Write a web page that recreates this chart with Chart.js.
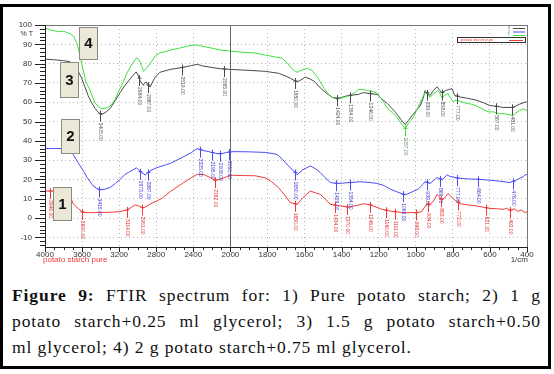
<!DOCTYPE html>
<html>
<head>
<meta charset="utf-8">
<script src="https://cdn.jsdelivr.net/npm/chart.js"></script>
<style>
  body { margin: 0; background: #fff; }
  #frame { position: absolute; left: 0; top: 4px; width: 551px; height: 365px; border: 3px solid #000; box-sizing: border-box; }
  #wrap { position: absolute; left: 0; top: 0; width: 554px; height: 272px; }
  #caption { position: absolute; left: 12px; top: 282px; width: 529px; font-family: 'Liberation Serif', 'DejaVu Serif', serif; font-size: 17.5px; line-height: 26px; color: #111; }
  #caption div { white-space: nowrap; letter-spacing: 0.9px; }
  #caption .j { text-align: justify; text-align-last: justify; white-space: normal; }
</style>
</head>
<body>
<div id="frame"></div>
<div id="wrap"><canvas id="ftirChart"></canvas></div>
<div id="caption">
  <div class="j"><b>Figure 9:</b> FTIR spectrum for: 1) Pure potato starch; 2) 1 g</div>
  <div class="j">potato starch+0.25 ml glycerol; 3) 1.5 g potato starch+0.50</div>
  <div>ml glycerol; 4) 2 g potato starch+0.75 ml glycerol.</div>
</div>
<script>
// wavenumbers (1/cm) and %T

// 4 - green
const wave4 = [4000, 3950, 3900, 3850, 3800, 3760, 3730, 3690, 3660, 3640, 3600, 3560, 3513, 3460, 3420, 3387, 3340, 3297, 3250, 3211, 3160, 3117, 3060, 3009, 2985, 2960, 2937, 2905, 2865, 2811, 2760, 2649, 2550, 2470, 2400, 2360, 2280, 2200, 2100, 2000, 1950, 1870, 1811, 1760, 1722, 1690, 1670, 1650, 1640, 1620, 1585, 1560, 1530, 1500, 1470, 1450, 1424, 1390, 1354, 1330, 1310, 1280, 1262, 1230, 1208, 1180, 1154, 1125, 1100, 1075, 1057, 1040, 1014, 985, 960, 950, 935, 923, 910, 895, 880, 870, 858, 845, 826, 815, 800, 780, 761, 730, 700, 670, 640, 610, 580, 550, 520, 492, 476, 460, 440, 420, 400];
const trans4 = [98.4, 97.5, 97, 96.5, 96.8, 96, 95.5, 94, 91, 88, 79, 71, 66, 59.5, 57.5, 56.6, 57, 58, 61, 65, 70, 75, 80, 83, 82, 79, 76, 77.5, 80, 84, 85.5, 87, 88, 89, 89.6, 89.6, 88.8, 88, 87, 86.5, 86, 85.5, 84.4, 83.5, 82.8, 80, 77.5, 76, 75.5, 76.5, 77.6, 76.5, 73, 68, 64, 62.5, 61.5, 62.5, 63.5, 65, 66.6, 66.5, 66, 65.5, 64.7, 61, 57, 54.5, 52, 48.5, 46.4, 49, 52, 58, 63, 65, 64, 62.5, 64, 65, 66, 64.5, 62, 63.5, 64.5, 62.5, 60.5, 61, 60.5, 59.5, 59, 58, 56.5, 55, 55, 54, 54, 53.5, 53, 54.5, 55.7, 56.5, 55.7];

// 3 - black
const wave3 = [4000, 3900, 3800, 3730, 3700, 3657, 3604, 3570, 3535, 3500, 3460, 3420, 3387, 3340, 3297, 3240, 3190, 3140, 3100, 3050, 3016, 2995, 2973, 2940, 2925, 2908, 2890, 2865, 2840, 2811, 2760, 2649, 2519, 2420, 2357, 2300, 2200, 2100, 2000, 1900, 1811, 1741, 1700, 1677, 1640, 1620, 1596, 1570, 1550, 1510, 1480, 1450, 1418, 1390, 1364, 1310, 1283, 1250, 1208, 1180, 1154, 1111, 1080, 1057, 1040, 1020, 995, 977, 960, 950, 935, 923, 905, 885, 870, 858, 840, 826, 804, 790, 761, 720, 670, 630, 600, 560, 530, 476, 440, 410, 400];
const trans3 = [82.3, 82, 81.5, 81, 79.5, 77.6, 72.4, 68, 63.5, 60, 56.8, 54.5, 53.6, 55, 56.8, 61, 65, 68.5, 71, 74, 75.7, 74, 71, 68.8, 70, 70.5, 69, 67.9, 70.5, 73, 75.5, 77, 78, 79, 79.6, 78.8, 78, 77.3, 77, 76.5, 76, 75, 73.5, 72.4, 70.5, 71.5, 73, 72, 71, 67, 64.5, 62.5, 62, 62.8, 63.5, 64, 65, 64.5, 64, 61.5, 59.4, 55, 51, 48.4, 50.5, 53, 56, 58, 62, 66, 64.5, 63.5, 66, 68, 66, 65, 66, 66.5, 67, 63.5, 62.7, 62, 61, 59.5, 58.3, 57.8, 57.3, 57.3, 59, 60, 60.2];

// 2 - blue
const wave2 = [4000, 3900, 3805, 3750, 3697, 3660, 3621, 3580, 3546, 3481, 3440, 3405, 3350, 3297, 3240, 3189, 3140, 3100, 3050, 3016, 2990, 2973, 2919, 2890, 2865, 2800, 2700, 2649, 2519, 2420, 2357, 2300, 2240, 2160, 2108, 2080, 2040, 1984, 1900, 1811, 1760, 1741, 1704, 1677, 1650, 1640, 1610, 1569, 1540, 1515, 1490, 1461, 1418, 1354, 1300, 1245, 1208, 1170, 1138, 1100, 1057, 1020, 987, 960, 950, 923, 900, 885, 858, 831, 815, 804, 777, 720, 670, 600, 540, 492, 460, 420, 410, 400];
const trans2 = [36, 36, 36, 35.5, 33, 30, 27, 24, 21, 16.7, 15.3, 14.6, 15, 15.8, 18, 20, 22.5, 23.6, 25, 26, 25, 24, 22.4, 23.5, 24.5, 26, 27.5, 28.3, 31.4, 34, 36, 35, 34.5, 33.5, 33.3, 33.5, 34, 34.4, 34.3, 34, 33.2, 32.5, 28.8, 26, 23.6, 22.4, 25, 27, 25.5, 23.6, 21, 18.4, 17.9, 18.4, 18.8, 18.4, 17.9, 16.8, 15, 13.5, 12, 13.5, 15, 17.5, 18.9, 17.9, 19.8, 21, 19.8, 22.4, 21.5, 21.4, 20.7, 20.3, 20.1, 19.6, 19, 18.4, 19.6, 21.5, 22.4, 22.5];

// 1 - red, pure potato starch
const wave1 = [4000, 3950, 3850, 3760, 3730, 3697, 3643, 3600, 3589, 3500, 3400, 3300, 3200, 3114, 3070, 3027, 2990, 2940, 2900, 2860, 2800, 2735, 2649, 2519, 2420, 2357, 2280, 2220, 2162, 2110, 2060, 2000, 1930, 1865, 1811, 1780, 1741, 1700, 1677, 1650, 1640, 1610, 1569, 1540, 1515, 1490, 1461, 1407, 1364, 1320, 1283, 1250, 1230, 1181, 1138, 1100, 1068, 993, 970, 939, 923, 900, 885, 858, 840, 826, 804, 780, 761, 720, 670, 630, 600, 560, 530, 510, 490, 470, 450, 430, 410, 400];
const trans1 = [14, 14, 14, 13.5, 11.5, 7.4, 5, 3.2, 2.8, 2.8, 2.9, 3, 3.3, 4.2, 5.5, 6.8, 6.3, 5.2, 6.2, 7.4, 8.7, 10.3, 13.7, 17.9, 21, 22.7, 22.4, 21, 19.6, 20.1, 21, 22.2, 22, 21.9, 20.8, 19, 15.8, 11, 8, 7.4, 7.1, 10.5, 14, 13, 12.3, 10, 7.1, 6.25, 5.7, 6.5, 7.4, 7, 6.25, 4.5, 3.6, 3.2, 2.8, 2.8, 3.3, 7.4, 6.8, 9.5, 12.3, 9.2, 11, 12.7, 10.6, 8.5, 7.4, 6.8, 6.25, 5.5, 5, 4.8, 4.5, 5, 4, 4.8, 3.5, 4.2, 2.8, 3.2];

// labelled peaks on each trace
const peaks4 = [1057];
const peaks3 = [3405, 2984, 2887, 2519, 2065, 1650, 1424, 1354, 1246, 939, 858, 777, 567, 481];
const peaks2 = [3415, 2973, 2887, 2325, 2195, 2108, 2010, 1650, 1429, 1354, 1068, 939, 869, 777, 664, 476];
const peaks1 = [3946, 3600, 3114, 2951, 2162, 1650, 1434, 1370, 1246, 1160, 1111, 998, 934, 863, 772, 621, 492];

const xTicks = [4000, 3600, 3200, 2800, 2400, 2000, 1800, 1600, 1400, 1200, 1000, 800, 600, 400];
const yTicks = [-10, 0, 10, 20, 30, 40, 50, 60, 70, 80, 90, 100];

// the instrument plots 4000-2000 at half scale
const toU = w => w >= 2000 ? (4000 - w) / 2 : 1000 + (2000 - w);
const toW = u => u <= 1000 ? 4000 - 2 * u : 2000 - (u - 1000);

const traces = [
    { label: '4', wave: wave4, t: trans4, peaks: peaks4, color: '#3ee03e', text: '#5a8a5a' },
    { label: '3', wave: wave3, t: trans3, peaks: peaks3, color: '#4a4a4a', text: '#555' },
    { label: '2', wave: wave2, t: trans2, peaks: peaks2, color: '#4c4cf4', text: '#3a3ad0' },
    { label: '1', wave: wave1, t: trans1, peaks: peaks1, color: '#f03a3a', text: '#e03030' }
];

function valueAt(tr, w) {
    for (let i = 0; i < tr.wave.length - 1; i++) {
        const a = tr.wave[i], b = tr.wave[i + 1];
        if (w <= a && w >= b) {
            const f = (a - w) / (a - b);
            return tr.t[i] + f * (tr.t[i + 1] - tr.t[i]);
        }
    }
    return tr.t[tr.t.length - 1];
}

const decor = {
    id: 'decor',
    afterDatasetsDraw(chart) {
        const ctx = chart.ctx;
        const a = chart.chartArea;
        const xs = chart.scales.x, ys = chart.scales.y;
        ctx.save();

        // frame
        ctx.strokeStyle = '#777';
        ctx.lineWidth = 1;
        ctx.strokeRect(a.left + 0.5, a.top + 0.5, a.right - a.left, a.bottom - a.top);
        ctx.strokeStyle = '#222';
        ctx.beginPath();
        ctx.moveTo(a.left + 0.5, a.top);
        ctx.lineTo(a.left + 0.5, a.bottom + 0.5);
        ctx.lineTo(a.right, a.bottom + 0.5);
        ctx.stroke();

        // scale break at 2000
        const xb = Math.round(xs.getPixelForValue(1000)) + 0.5;
        ctx.strokeStyle = '#666';
        ctx.beginPath();
        ctx.moveTo(xb, a.top);
        ctx.lineTo(xb, a.bottom);
        ctx.stroke();

        // ticks
        ctx.strokeStyle = '#222';
        ctx.beginPath();
        for (let v = -14; v <= 100; v += 2) {
            const y = Math.round(ys.getPixelForValue(v)) + 0.5;
            const len = v % 10 === 0 ? 10 : 5;
            ctx.moveTo(a.left - len, y);
            ctx.lineTo(a.left, y);
        }
        for (let u = 0; u <= 2600; u += 50) {
            const x = Math.round(xs.getPixelForValue(u)) + 0.5;
            const len = u % 200 === 0 ? 5 : 3;
            ctx.moveTo(x, a.bottom);
            ctx.lineTo(x, a.bottom + len);
        }
        ctx.stroke();

        // peak markers
        ctx.font = '5px "Liberation Sans", sans-serif';
        ctx.textBaseline = 'middle';
        traces.forEach(tr => {
            tr.peaks.forEach(w => {
                const x = Math.round(xs.getPixelForValue(toU(w))) + 0.5;
                const y = ys.getPixelForValue(valueAt(tr, w));
                ctx.strokeStyle = tr.color;
                ctx.beginPath();
                ctx.moveTo(x - 2, y);
                ctx.lineTo(x + 2, y);
                ctx.moveTo(x, y - 3);
                ctx.lineTo(x, y + 8);
                ctx.stroke();
                ctx.save();
                ctx.translate(x, y + 9);
                ctx.rotate(Math.PI / 2);
                ctx.fillStyle = tr.text;
                ctx.textAlign = 'left';
                ctx.fillText(w.toFixed(2), 0, 0);
                ctx.restore();
            });
        });

        // axis texts
        ctx.fillStyle = '#333';
        ctx.font = '7px "Liberation Sans", sans-serif';
        ctx.textAlign = 'right';
        ctx.fillText('% T', 33, 34);
        ctx.font = '8px "Liberation Sans", sans-serif';
        ctx.fillText('1/cm', 528, 260);
        ctx.textAlign = 'left';
        ctx.fillStyle = '#f03a3a';
        ctx.fillText('potato starch pure', 43, 260);

        // legend, top right
        ctx.font = '4px "Liberation Sans", sans-serif';
        const leg = [['3', '#4a4a4a', 28], ['2', '#4c4cf4', 31.5], ['1', '#3ee03e', 35]];
        leg.forEach(([t, c, y]) => {
            ctx.fillStyle = c;
            ctx.textAlign = 'right';
            ctx.fillText(t, 510, y);
            ctx.strokeStyle = c;
            ctx.beginPath();
            ctx.moveTo(513, y + 0.5);
            ctx.lineTo(525, y + 0.5);
            ctx.stroke();
        });
        ctx.strokeStyle = '#333';
        ctx.strokeRect(457.5, 37.5, 68, 5);
        ctx.fillStyle = '#f03a3a';
        ctx.textAlign = 'left';
        ctx.fillText('potato starch pure', 461, 40);
        ctx.strokeStyle = '#f03a3a';
        ctx.beginPath();
        ctx.moveTo(509, 40.5);
        ctx.lineTo(523, 40.5);
        ctx.stroke();

        // numbered boxes
        const boxes = [['4', 79, 27, 18, 32], ['3', 60, 62, 18, 35], ['2', 61, 119, 18, 34], ['1', 53, 187, 18, 33]];
        boxes.forEach(([t, x, y, w, h]) => {
            ctx.fillStyle = '#ebe8d8';
            ctx.fillRect(x, y, w, h);
            ctx.strokeStyle = '#8a8a80';
            ctx.strokeRect(x + 0.5, y + 0.5, w, h);
            ctx.fillStyle = '#111';
            ctx.font = 'bold 15px "Liberation Sans", sans-serif';
            ctx.textAlign = 'center';
            ctx.fillText(t, x + w / 2 + 0.5, y + h / 2 + 1);
        });
        ctx.restore();
    }
};

const ctx = document.getElementById('ftirChart').getContext('2d');
const ftirChart = new Chart(ctx, {
    type: 'line',
    data: {
        datasets: traces.map(tr => ({
            label: tr.label,
            data: tr.wave.map((w, i) => ({ x: toU(w), y: tr.t[i] })),
            borderColor: tr.color,
            borderWidth: 1,
            pointRadius: 0,
            fill: false,
            tension: 0
        }))
    },
    options: {
        responsive: true,
        maintainAspectRatio: false,
        animation: false,
        layout: { padding: { left: 0, right: 27, top: 25, bottom: 0 } },
        plugins: { legend: { display: false }, tooltip: { enabled: false } },
        scales: {
            x: {
                type: 'linear',
                min: 0,
                max: 2600,
                afterBuildTicks: s => { s.ticks = xTicks.map(w => ({ value: toU(w) })); },
                afterFit: s => { s.height = 25; },
                grid: { color: '#b8b8b8', drawTicks: false },
                border: { display: false, dash: [1, 3] },
                ticks: {
                    padding: 3,
                    maxRotation: 0,
                    autoSkip: false,
                    color: '#333',
                    font: { family: 'Liberation Sans', size: 8 },
                    callback: v => String(toW(v))
                }
            },
            y: {
                min: -15,
                max: 100,
                afterBuildTicks: s => { s.ticks = yTicks.map(v => ({ value: v })); },
                afterFit: s => { s.width = 45; },
                grid: { color: '#b8b8b8', drawTicks: false },
                border: { display: false, dash: [1, 3] },
                ticks: {
                    padding: 13,
                    color: '#333',
                    font: { family: 'Liberation Sans', size: 8 }
                }
            }
        }
    },
    plugins: [decor]
});
</script>
</body>
</html>
